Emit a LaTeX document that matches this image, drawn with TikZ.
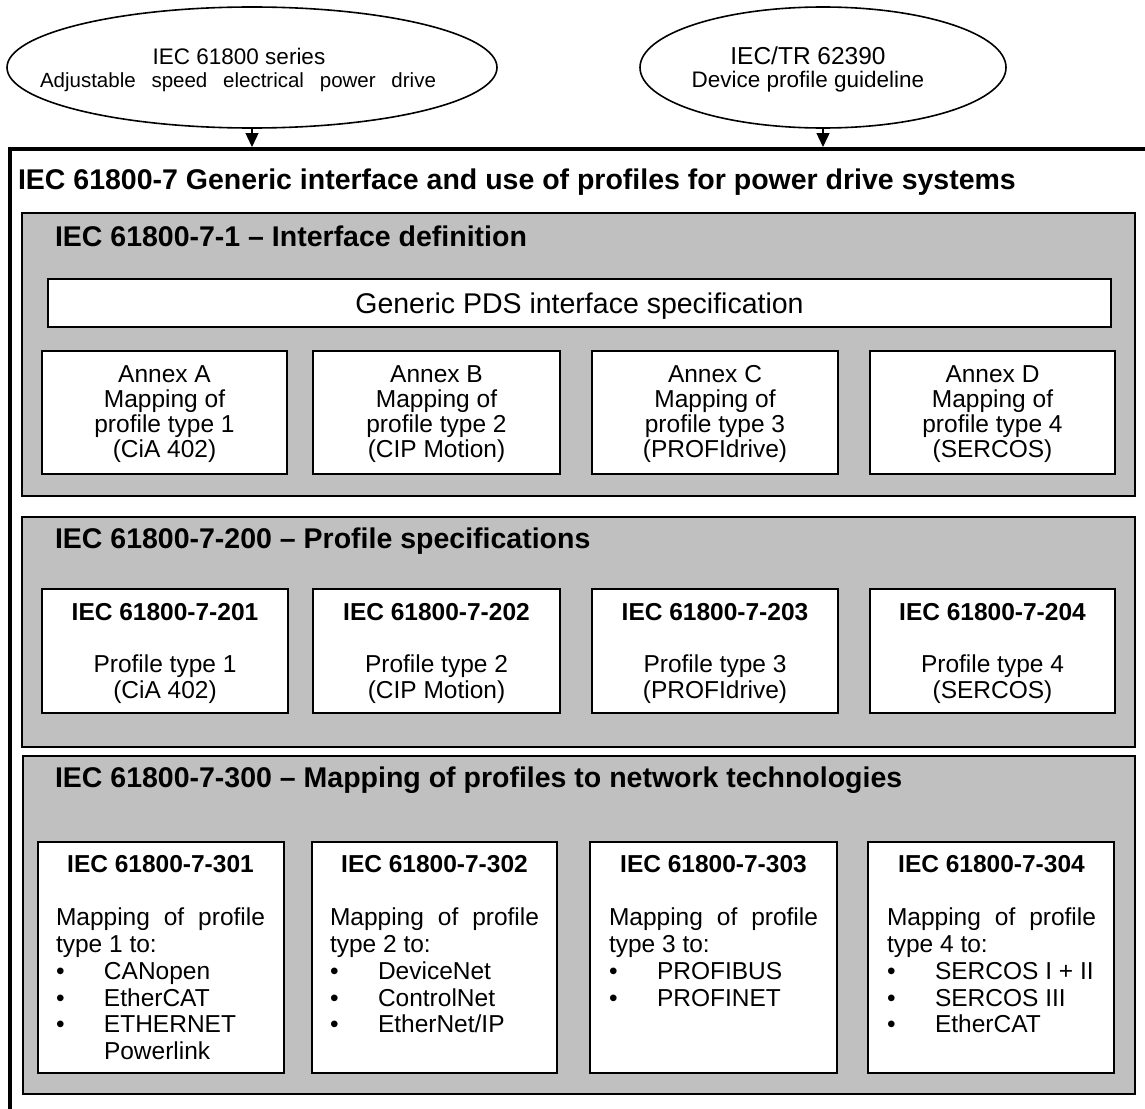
\documentclass[tikz,border=0pt]{standalone}
\usepackage{fontspec}
\setmainfont{Liberation Sans}
\usetikzlibrary{shapes.geometric,arrows.meta}
\definecolor{boxgray}{HTML}{C0C0C0}
\newcommand\mybox[6]{\node[#1, minimum width={(#5)-(#3)}, minimum height={(#6)-(#4)}] (#2) at (#3,#4) {};}
\newcommand\bul{\makebox[48pt][l]{\textbullet}}
\newcommand\annex[3]{\node[txt, anchor=base] (#1) at (#2,382) {\parbox[t]{240pt}{\centering\fontsize{24.5}{25}\selectfont #3}};}
\newcommand\prof[4]{\node[txt, anchor=base] (#1) at (#2,620) {\parbox[t]{240pt}{\centering\fontsize{24.5}{26}\selectfont\textbf{#3}\\[26pt]#4}};}
\newcommand\mapp[4]{\node[txt, anchor=base west] (#1) at (#2,872) {\parbox[t]{209pt}{\fontsize{24.5}{26.8}\selectfont\parskip=0pt\parindent=0pt
{\centering\bfseries #3\par}\vspace{26.8pt}
#4}};}
\begin{document}
\begin{tikzpicture}[x=1pt,y=-1pt,
  txt/.style={inner sep=0pt, outer sep=0pt},
  graybox/.style={draw=black, line width=2.2pt, fill=boxgray, anchor=north west, inner sep=0pt, outer sep=0pt},
  whitebox/.style={draw=black, line width=1.7pt, fill=white, anchor=north west, inner sep=0pt, outer sep=0pt},
  oval/.style={draw=black, line width=1.6pt, ellipse, inner sep=0pt, outer sep=0pt},
  arr/.style={line width=1.4pt, -{Triangle[length=14pt,width=13pt]}},
  hd/.style={txt, anchor=base west, font=\fontsize{28.5}{30}\selectfont\bfseries},
]
\useasboundingbox (0,0) rectangle (1145,1108);
\fill[white] (0,0) rectangle (1145,1108);

% top ellipses
\node[oval, minimum width=490, minimum height=121] (e1) at (252,67.5) {};
\node[oval, minimum width=366, minimum height=121] (e2) at (823,67.5) {};
\node[txt, anchor=base, font=\fontsize{22.5}{24}\selectfont] (e1a) at (239,65) {IEC 61800 series};
\node[txt, anchor=base, font=\fontsize{20.5}{24}\selectfont] (e1b) at (238,88) {\makebox[396pt][s]{Adjustable speed electrical power drive}};
\node[txt, anchor=base, font=\fontsize{24.5}{26}\selectfont] (e2a) at (808,65) {IEC/TR 62390};
\node[txt, anchor=base, font=\fontsize{22.5}{24}\selectfont] (e2b) at (808,88) {Device profile guideline};

% outer frame
\coordinate (oL) at (10,1130);
\coordinate (oT) at (10,149);
\coordinate (oR) at (1170,149);
\draw[line width=4pt] (oL) -- (oT) -- (oR);
\coordinate (a1) at (252,147);
\coordinate (a2) at (823,147);
\draw[arr] (e1.south) -- (a1);
\draw[arr] (e2.south) -- (a2);
\node[hd] (h0) at (18,189) {IEC 61800-7 Generic interface and use of profiles for power drive systems};

% gray sections
\mybox{graybox}{g1}{22}{213}{1135}{496}
\mybox{graybox}{g2}{22}{517}{1135}{747}
\mybox{graybox}{g3}{23}{756}{1135}{1094}
\node[hd] (h1) at (55,246) {IEC 61800-7-1 \textendash{} Interface definition};
\node[hd] (h2) at (55,548) {IEC 61800-7-200 \textendash{} Profile specifications};
\node[hd] (h3) at (55,787) {IEC 61800-7-300 \textendash{} Mapping of profiles to network technologies};

% 7-1
\mybox{whitebox}{gen}{48}{279}{1111}{327}
\node[txt, anchor=base, font=\fontsize{28.5}{30}\selectfont] (gt) at (579.5,313) {Generic PDS interface specification};
\mybox{whitebox}{anA}{42}{351}{287}{474}
\mybox{whitebox}{anB}{313}{351}{560}{474}
\mybox{whitebox}{anC}{592}{351}{838}{474}
\mybox{whitebox}{anD}{870}{351}{1115}{474}
\annex{tA}{164.5}{Annex A\\Mapping of\\profile type 1\\(CiA 402)}
\annex{tB}{436.5}{Annex B\\Mapping of\\profile type 2\\(CIP Motion)}
\annex{tC}{715}{Annex C\\Mapping of\\profile type 3\\(PROFIdrive)}
\annex{tD}{992.5}{Annex D\\Mapping of\\profile type 4\\(SERCOS)}

% 7-200
\mybox{whitebox}{p1}{42}{589}{288}{713}
\mybox{whitebox}{p2}{313}{589}{560}{713}
\mybox{whitebox}{p3}{592}{589}{838}{713}
\mybox{whitebox}{p4}{870}{589}{1115}{713}
\prof{tp1}{165}{IEC 61800-7-201}{Profile type 1\\(CiA 402)}
\prof{tp2}{436.5}{IEC 61800-7-202}{Profile type 2\\(CIP Motion)}
\prof{tp3}{715}{IEC 61800-7-203}{Profile type 3\\(PROFIdrive)}
\prof{tp4}{992.5}{IEC 61800-7-204}{Profile type 4\\(SERCOS)}

% 7-300
\mybox{whitebox}{m1}{38}{842}{284}{1073}
\mybox{whitebox}{m2}{312}{842}{557}{1073}
\mybox{whitebox}{m3}{590}{842}{837}{1073}
\mybox{whitebox}{m4}{868}{842}{1114}{1073}
\mapp{tm1}{56}{IEC 61800-7-301}{\makebox[\linewidth][s]{Mapping of profile}\par
type 1 to:\par
\bul CANopen\par
\bul EtherCAT\par
\bul ETHERNET\par
\hspace*{48pt}Powerlink}
\mapp{tm2}{330}{IEC 61800-7-302}{\makebox[\linewidth][s]{Mapping of profile}\par
type 2 to:\par
\bul DeviceNet\par
\bul ControlNet\par
\bul EtherNet/IP}
\mapp{tm3}{609}{IEC 61800-7-303}{\makebox[\linewidth][s]{Mapping of profile}\par
type 3 to:\par
\bul PROFIBUS\par
\bul PROFINET}
\mapp{tm4}{887}{IEC 61800-7-304}{\makebox[\linewidth][s]{Mapping of profile}\par
type 4 to:\par
\bul SERCOS I + II\par
\bul SERCOS III\par
\bul EtherCAT}
\end{tikzpicture}
\end{document}
